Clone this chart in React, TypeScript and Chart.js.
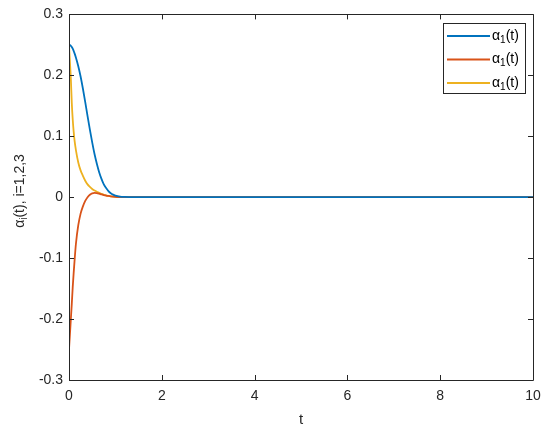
import React, { useEffect, useRef } from "react";
import { Chart, registerables } from "chart.js";

Chart.register(...registerables);

const tValues = [0, 0.02, 0.04, 0.06, 0.08, 0.1, 0.12, 0.15, 0.2, 0.25, 0.3, 0.35, 0.4, 0.45, 0.5, 0.55, 0.6, 0.65, 0.7, 0.75, 0.8, 0.85, 0.9, 0.95, 1.0, 1.1, 1.2, 1.3, 1.4, 1.5, 2, 3, 4, 5, 6, 7, 8, 9, 10];

const alphaBlue = [0.25, 0.2498, 0.2485, 0.2465, 0.2437, 0.2402, 0.236, 0.229, 0.215, 0.198, 0.178, 0.156, 0.133, 0.111, 0.09, 0.071, 0.055, 0.041, 0.03, 0.021, 0.015, 0.01, 0.0065, 0.0042, 0.0027, 0.001, 0.0004, 0.0001, 0, 0, 0, 0, 0, 0, 0, 0, 0, 0, 0];

const alphaRed = [-0.25, -0.225, -0.2, -0.175, -0.148, -0.125, -0.104, -0.076, -0.046, -0.027, -0.015, -0.006, 0.0, 0.004, 0.0062, 0.007, 0.0066, 0.0057, 0.0046, 0.0036, 0.0027, 0.002, 0.0014, 0.001, 0.0007, 0.0003, 0.0001, 0, 0, 0, 0, 0, 0, 0, 0, 0, 0, 0, 0];

const alphaYellow = [0.25, 0.222, 0.194, 0.155, 0.128, 0.108, 0.093, 0.077, 0.057, 0.044, 0.035, 0.027, 0.021, 0.017, 0.0135, 0.011, 0.009, 0.007, 0.0055, 0.004, 0.003, 0.002, 0.0014, 0.001, 0.0007, 0.0003, 0.0001, 0, 0, 0, 0, 0, 0, 0, 0, 0, 0, 0, 0];

const seriesLabels = ["α1(t)", "α1(t)", "α1(t)"];
const seriesColors = ["#0072BD", "#D95319", "#EDB120"];

const FONT = "'Liberation Sans', Arial, Helvetica, sans-serif";
const AX = "#262626";

function drawAlpha(ctx: CanvasRenderingContext2D, x: number, y: number, sub: string, rest: string, size: number) {
  ctx.textBaseline = "middle";
  ctx.textAlign = "left";
  ctx.font = `${size}px ${FONT}`;
  ctx.fillText("α", x, y);
  let w = ctx.measureText("α").width;
  ctx.font = `${Math.round(size * 0.72)}px ${FONT}`;
  ctx.fillText(sub, x + w, y + size * 0.3);
  w += ctx.measureText(sub).width;
  ctx.font = `${size}px ${FONT}`;
  ctx.fillText(rest, x + w, y);
  w += ctx.measureText(rest).width;
  return w;
}

const framePlugin = {
  id: "frame",
  afterDraw(chart: any) {
    const ctx = chart.ctx as CanvasRenderingContext2D;
    const { left, right, top, bottom } = chart.chartArea;
    const xs = chart.scales.x;
    const ys = chart.scales.y;
    ctx.save();
    ctx.strokeStyle = AX;
    ctx.lineWidth = 1;
    ctx.beginPath();
    ctx.rect(Math.round(left) + 0.5, Math.round(top) + 0.5, Math.round(right - left), Math.round(bottom - top));
    ctx.stroke();
    const tl = 5;
    ctx.beginPath();
    xs.ticks.forEach((t: any) => {
      const px = Math.round(xs.getPixelForValue(t.value)) + 0.5;
      ctx.moveTo(px, bottom);
      ctx.lineTo(px, bottom - tl);
      ctx.moveTo(px, top);
      ctx.lineTo(px, top + tl);
    });
    ys.ticks.forEach((t: any) => {
      const py = Math.round(ys.getPixelForValue(t.value)) + 0.5;
      ctx.moveTo(left, py);
      ctx.lineTo(left + tl, py);
      ctx.moveTo(right, py);
      ctx.lineTo(right - tl, py);
    });
    ctx.stroke();

    // legend
    const lx = 443, ly = 23, lw = 82, lh = 70;
    ctx.fillStyle = "#ffffff";
    ctx.fillRect(lx, ly, lw, lh);
    ctx.strokeStyle = AX;
    ctx.lineWidth = 1;
    ctx.strokeRect(lx + 0.5, ly + 0.5, lw, lh);
    chart.data.datasets.forEach((ds: any, i: number) => {
      const y = 36 + i * 23.5;
      ctx.strokeStyle = ds.borderColor;
      ctx.lineWidth = 2;
      ctx.beginPath();
      ctx.moveTo(447, y);
      ctx.lineTo(490, y);
      ctx.stroke();
      ctx.fillStyle = "#000000";
      const lab = String(ds.label);
      drawAlpha(ctx, 492, y, lab.slice(1, 2), lab.slice(2), 14);
    });

    // y-axis title
    ctx.save();
    ctx.translate(20, 191);
    ctx.rotate(-Math.PI / 2);
    ctx.fillStyle = AX;
    const full = "αi(t), i=1,2,3";
    ctx.font = `14px ${FONT}`;
    const wA = ctx.measureText("α").width + ctx.measureText("(t), i=1,2,3").width;
    ctx.font = `10px ${FONT}`;
    const wS = ctx.measureText("i").width;
    drawAlpha(ctx, -(wA + wS) / 2, 0, full.slice(1, 2), full.slice(2), 14);
    ctx.restore();
    ctx.restore();
  },
};

export default function App() {
  const ref = useRef<HTMLCanvasElement>(null);
  useEffect(() => {
    if (!ref.current) return;
    const mk = (vals: number[]) => tValues.map((t, i) => ({ x: t, y: vals[i] }));
    const chart = new Chart(ref.current, {
      type: "line",
      data: {
        datasets: [alphaBlue, alphaRed, alphaYellow].map((vals, i) => ({
          label: seriesLabels[i],
          data: mk(vals),
          borderColor: seriesColors[i],
          backgroundColor: seriesColors[i],
          borderWidth: 1.8,
          pointRadius: 0,
          cubicInterpolationMode: "monotone" as const,
          fill: false,
        })),
      },
      options: {
        responsive: false,
        animation: false,
        layout: { padding: { left: 0, top: 10, right: 17, bottom: 0 } },
        plugins: { legend: { display: false }, tooltip: { enabled: false } },
        scales: {
          x: {
            type: "linear",
            min: 0,
            max: 10,
            ticks: { stepSize: 2, padding: 8, color: AX, font: { family: FONT, size: 14 }, maxRotation: 0 },
            grid: { display: false, drawTicks: false },
            border: { display: false },
            title: { display: true, text: "t", color: AX, font: { family: FONT, size: 15 }, padding: { top: 4, bottom: 2 } },
            afterFit: (s: any) => { s.height = 51; },
          },
          y: {
            min: -0.3,
            max: 0.3,
            ticks: {
              stepSize: 0.1,
              padding: 6,
              color: AX,
              font: { family: FONT, size: 14 },
              callback: (v: any) => (Math.abs(Number(v)) < 1e-9 ? "0" : Number(v).toFixed(1)),
            },
            grid: { display: false, drawTicks: false },
            border: { display: false },
            afterFit: (s: any) => { s.width = 69; },
          },
        },
      },
      plugins: [framePlugin],
    });
    return () => chart.destroy();
  }, []);
  return (
    <div style={{ position: "fixed", left: 0, top: 0, width: 550, height: 431, background: "#fff" }}>
      <canvas ref={ref} width={550} height={431} style={{ display: "block" }} />
    </div>
  );
}
